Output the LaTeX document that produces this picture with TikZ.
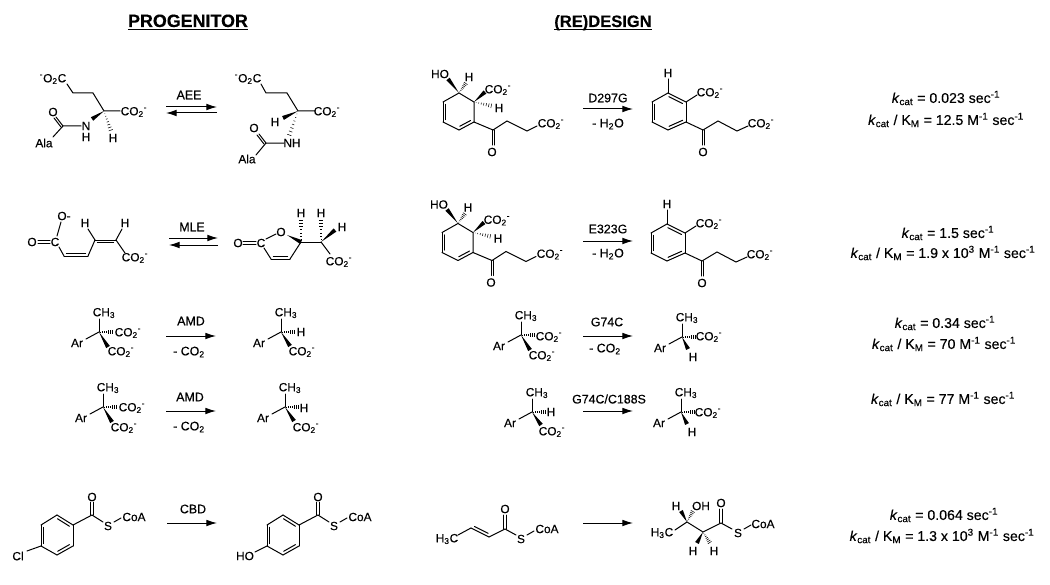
\documentclass[tikz,border=0pt]{standalone}
\usepackage{fontspec}
\setmainfont{Liberation Sans}[FakeBold=0.3]
\usepackage{tikz}
\usetikzlibrary{arrows.meta}
\usetikzlibrary{calc}

\newcommand{\cotwo}{CO\textsubscript{2}\textsuperscript{-}}
\newcommand{\kcat}{\textit{k}\textsubscript{cat}}
\newcommand{\kcatkm}{\kcat{} / K\textsubscript{M}}

\tikzset{
  bond/.style={line width=0.75pt, line cap=round},
  atom/.style={inner sep=0pt, font=\fontsize{8.9}{10}\selectfont},
  reagent/.style={inner sep=0pt, font=\fontsize{9.3}{11}\selectfont},
  rate/.style={inner sep=0pt, font=\fontsize{10.6}{12}\selectfont},
  heading/.style={inner sep=0pt, anchor=base},
  rxn/.style={line width=0.75pt, -{Latex[length=8pt,width=5pt]}},
}

% plain wedge, narrow at the first point
\newcommand{\wedgebond}[2]{\fill ($(#1)$) -- ($(#2)!1.6pt!90:(#1)$) -- ($(#2)!1.6pt!-90:(#1)$) -- cycle;}
% hashed wedge
\newcommand{\hashbond}[2]{
  \foreach \t in {0.12,0.26,...,1}{
    \pgfmathsetmacro{\hw}{\t*1.7}
    \coordinate (hh) at ($(#1)!\t!(#2)$);
    \draw[line width=0.4pt] ($(hh)!\hw pt!90:(#2)$) -- ($(hh)!\hw pt!-90:(#2)$);
  }
}
% double bond, second line on the right of the direction of travel
\newcommand{\innerbond}[2]{
  \draw[bond] (#1) -- (#2);
  \draw[bond, shorten >=1.8pt, shorten <=1.8pt] ($(#1)!2.2pt!-90:(#2)$) -- ($(#2)!2.2pt!90:(#1)$);
}
% reaction arrow: name, start, end
\newcommand{\rxnarrow}[3]{
  \coordinate (#1s) at (#2);
  \coordinate (#1e) at (#3);
  \draw[rxn] (#1s) -- (#1e);
}
% Ar-C(CH3) centre: name, centre, hash label at, hash text, wedge end, wedge label at, wedge text
\newcommand{\quatcarbon}[7]{
  \begin{scope}[shift={(#2)}]
  \draw[bond] (0,0) -- (0,-13);
  \draw[bond] (0,0) -- (-13,7);
  \node[atom] (#1me) at (5,-19) {CH\textsubscript{3}};
  \node[atom] (#1ar) at (-22,11) {Ar};
  \hashbond{0,0}{14,0}
  \node[atom] (#1ha) at (#3) {#4};
  \wedgebond{0,0}{#5}
  \node[atom] (#1we) at (#6) {#7};
  \end{scope}
}
% hydroxy diene with keto acid side chain
\newcommand{\dienol}[2]{
  \begin{scope}[shift={(#2)}]
  \coordinate (a) at (459,93); \coordinate (b) at (474,102); \coordinate (c) at (474,122);
  \coordinate (d) at (459,130); \coordinate (e) at (443,122); \coordinate (f) at (443,102);
  \draw[bond] (f) -- (a) -- (b) -- (c);
  \draw[bond] (d) -- (e);
  \innerbond{c}{d}
  \innerbond{e}{f}
  \wedgebond{a}{448,79}
  \hashbond{a}{466,83}
  \wedgebond{b}{485,92}
  \hashbond{b}{492,106}
  \node[atom] (#1ho) at (440,74) {HO};
  \node[atom] (#1h) at (469,77) {H};
  \node[atom] (#1co) at (498,90) {\cotwo};
  \node[atom] (#1hb) at (499,108) {H};
  \end{scope}
  \ketoacid{#1}{#2}{c}
}
% phenyl ketone used by the designed products
\newcommand{\arene}[2]{
  \begin{scope}[shift={(#2)}]
  \coordinate (a) at (668,93); \coordinate (b) at (686,102); \coordinate (c) at (686,122);
  \coordinate (d) at (668,130); \coordinate (e) at (652,122); \coordinate (f) at (652,102);
  \draw[bond] (b) -- (c);
  \draw[bond] (d) -- (e);
  \draw[bond] (f) -- (a);
  \innerbond{a}{b}
  \innerbond{c}{d}
  \innerbond{e}{f}
  \draw[bond] (a) -- (668,79);
  \draw[bond] (b) -- (697,95);
  \node[atom] (#1h) at (668,73) {H};
  \node[atom] (#1co) at (710,93) {\cotwo};
  \draw[bond] (c) -- (703,130) -- (718,121) -- (737,131) -- (748,126);
  \draw[bond] (702,130) -- (702,145);
  \draw[bond] (704.5,130) -- (704.5,145);
  \node[atom] (#1o) at (703,152) {O};
  \node[atom] (#1ca) at (761,124) {\cotwo};
  \end{scope}
}
\newcommand{\ketoacid}[3]{
  \begin{scope}[shift={(#2)}]
  \draw[bond] (#3) -- (493,130) -- (507,121) -- (527,131) -- (537,126);
  \draw[bond] (492,130) -- (492,145);
  \draw[bond] (494.5,130) -- (494.5,145);
  \node[atom] (#1o) at (492,152) {O};
  \node[atom] (#1ca) at (551,124) {\cotwo};
  \end{scope}
}
% para substituted benzoyl thioester
\newcommand{\benzoyl}[2]{
  \begin{scope}[shift={(#2)}]
  \coordinate (a) at (57,515); \coordinate (b) at (73,525); \coordinate (c) at (73,546);
  \coordinate (d) at (57,555); \coordinate (e) at (41,546); \coordinate (f) at (41,525);
  \draw[bond] (b) -- (c);
  \draw[bond] (d) -- (e);
  \draw[bond] (f) -- (a);
  \innerbond{a}{b}
  \innerbond{c}{d}
  \innerbond{e}{f}
  \draw[bond] (b) -- (92,515) -- (103,522);
  \draw[bond] (90.8,515) -- (90.8,502);
  \draw[bond] (93.2,515) -- (93.2,502);
  \draw[bond] (114,522) -- (121,518);
  \node[atom] (#1o) at (92,497) {O};
  \node[atom] (#1s) at (108,526) {S};
  \node[atom] (#1c) at (134,517) {CoA};
  \end{scope}
}

\begin{document}
\begin{tikzpicture}[x=0.75pt, y=-0.75pt]
\useasboundingbox (0,0) rectangle (1050,585);

% headings
\node[heading, font=\fontsize{13.4}{15}\selectfont\bfseries] (progenitor) at (188,27) {PROGENITOR};
\node[heading, font=\fontsize{12.4}{15}\selectfont\bfseries] (redesign) at (603,27) {(RE)DESIGN};
\draw[line width=1pt] ($(progenitor.base west)+(0,2.5)$) -- ($(progenitor.base east)+(0,2.5)$);
\draw[line width=1pt] ($(redesign.base west)+(0,2.5)$) -- ($(redesign.base east)+(0,2.5)$);

% AEE substrate
\node[atom] (aeecoa) at (53,79) {\textsuperscript{-}O\textsubscript{2}C};
\draw[bond] (67,84) -- (73,93) -- (93,93) -- (104,111) -- (120,111);
\node[atom] (aeecob) at (134,112) {\cotwo};
\wedgebond{104,111}{92,119}
\hashbond{104,111}{111,131}
\node[atom] (aeeh) at (113,138) {H};
\node[atom] (aeen) at (86,126) {N};
\node[atom] (aeenh) at (86,137) {H};
\draw[bond] (81,126) -- (63,126) -- (53,137);
\draw[bond] (63,126) -- (56,117);
\draw[bond] (61,127) -- (54,118);
\node[atom] (aeeo) at (53,112) {O};
\node[atom] (aeeala) at (44,143) {Ala};

% AEE product
\node[atom] (aeepcoa) at (248,79) {\textsuperscript{-}O\textsubscript{2}C};
\draw[bond] (261,84) -- (266,93) -- (287,93) -- (298,111) -- (315,111);
\node[atom] (aeepcob) at (327,112) {\cotwo};
\wedgebond{298,111}{283,118}
\node[atom] (aeeph) at (275,122) {H};
\hashbond{298,111}{289,136}
\node[atom] (aeepn) at (292,143) {NH};
\draw[bond] (284,143) -- (266,143) -- (256,155);
\draw[bond] (266,143) -- (259,134);
\draw[bond] (264,144) -- (257,135);
\node[atom] (aeepo) at (254,128) {O};
\node[atom] (aeepala) at (247,159) {Ala};

% AEE arrows
\node[reagent] (aee) at (189,95) {AEE};
\rxnarrow{aeef}{166,107}{217,107}
\rxnarrow{aeer}{217,113}{166,113}

% MLE substrate
\node[atom] (mleoa) at (64,216) {O-};
\node[atom] (mleob) at (32,242) {O};
\node[atom] (mlec) at (55,242) {C};
\draw[bond] (38,240.5) -- (50,240.5);
\draw[bond] (38,243.5) -- (50,243.5);
\draw[bond] (57,236) -- (61,222);
\draw[bond] (59,247) -- (64,256);
\draw[bond] (88,256) -- (95,240);
\innerbond{88,256}{64,256}
\innerbond{95,240}{116,240}
\draw[bond] (95,240) -- (88,229);
\draw[bond] (116,240) -- (122,229);
\draw[bond] (116,240) -- (125,253);
\node[atom] (mleha) at (85,223) {H};
\node[atom] (mlehb) at (125,223) {H};
\node[atom] (mleco) at (135,258) {\cotwo};

% MLE product
\node[atom] (mlepoa) at (238,243) {O};
\node[atom] (mlepc) at (261,243) {C};
\node[atom] (mlepob) at (281,232) {O};
\draw[bond] (243,241) -- (256,241);
\draw[bond] (243,244.5) -- (256,244.5);
\draw[bond] (266,239) -- (276,234);
\wedgebond{287,235}{301,242}
\hashbond{301,242}{301,219}
\node[atom] (mlepha) at (301,213) {H};
\draw[bond] (301,242) -- (321,242);
\hashbond{321,242}{321,219}
\node[atom] (mlephb) at (321,213) {H};
\wedgebond{321,242}{335,230}
\node[atom] (mlephc) at (342,227) {H};
\draw[bond] (321,242) -- (330,254);
\node[atom] (mlepco) at (339,262) {\cotwo};
\draw[bond] (301,242) -- (290,259);
\innerbond{290,259}{271,259}
\draw[bond] (271,259) -- (264,248);

% MLE arrows
\node[reagent] (mle) at (192,227) {MLE};
\rxnarrow{mlef}{169,238}{218,238}
\rxnarrow{mler}{218,245}{169,245}

% AMD, upper row
\quatcarbon{amda}{99,332}{29,1}{\cotwo}{9,15}{22,20}{\cotwo}
\node[reagent] (amdatop) at (191,321) {AMD};
\node[reagent] (amdabot) at (189,352) {- CO\textsubscript{2}};
\rxnarrow{amdaarr}{166,336}{216,336}
\quatcarbon{amdb}{281,332}{20,0}{H}{9,14}{21,20}{\cotwo}

% AMD, lower row
\quatcarbon{amdc}{103,407}{29,1}{\cotwo}{9,15}{21,21}{\cotwo}
\node[reagent] (amdctop) at (190,397) {AMD};
\node[reagent] (amdcbot) at (189,427) {- CO\textsubscript{2}};
\rxnarrow{amdcarr}{166,411}{216,411}
\quatcarbon{amdd}{285,407}{19,1}{H}{9,14}{21,21}{\cotwo}

% CBD
\benzoyl{cbda}{0,0}
\node[atom] (cbdcl) at (18,556) {Cl};
\draw[bond] (41,546) -- (27,551);
\node[reagent] (cbd) at (193,509) {CBD};
\rxnarrow{cbdarr}{167,523}{217,523}
\benzoyl{cbdb}{226,0}
\node[atom] (cbdho) at (245,556) {HO};
\draw[bond] (267,546) -- (255,552);

% D297G
\dienol{dpa}{0,0}
\node[reagent] (dpatop) at (608,98) {D297G};
\node[reagent] (dpabot) at (608,124) {- H\textsubscript{2}O};
\rxnarrow{dparr}{583,109}{633,109}
\arene{dpb}{0,0}

% E323G
\dienol{epa}{-1,130.5}
\node[reagent] (epatop) at (608,229) {E323G};
\node[reagent] (epabot) at (608,254) {- H\textsubscript{2}O};
\rxnarrow{eparr}{583,241}{633,241}
\arene{epb}{-1,131}

% G74C
\quatcarbon{gca}{521,335}{28,2}{\cotwo}{9,15}{21,21}{\cotwo}
\node[reagent] (gcatop) at (607,322) {G74C};
\node[reagent] (gcabot) at (605,349) {- CO\textsubscript{2}};
\rxnarrow{gcarr}{583,336}{633,336}
\quatcarbon{gcb}{682,337}{27,0}{\cotwo}{6,12}{11,20}{H}

% G74C/C188S
\quatcarbon{gda}{532,412}{19,0}{H}{9,13}{20,20}{\cotwo}
\node[reagent] (gdatop) at (609,399) {G74C/C188S};
\rxnarrow{gdarr}{583,411}{633,411}
\quatcarbon{gdb}{681,412}{27,1}{\cotwo}{6,12}{11,20}{H}

% crotonyl thioester
\node[atom] (croch) at (447,539) {H\textsubscript{3}C};
\draw[bond] (458,535) -- (471,528);
\innerbond{489,537}{471,528}
\draw[bond] (489,537) -- (505,529) -- (516,535);
\draw[bond] (503.8,529) -- (503.8,515);
\draw[bond] (506.2,529) -- (506.2,515);
\node[atom] (croo) at (505,509) {O};
\node[atom] (cros) at (521,539) {S};
\draw[bond] (527,535) -- (534,531);
\node[atom] (crocoa) at (547,529) {CoA};
\rxnarrow{croarr}{583,523}{633,523}

% hydroxybutyryl thioester
\node[atom] (hydch) at (662,533) {H\textsubscript{3}C};
\draw[bond] (675,530) -- (687,522) -- (703,532) -- (721,523) -- (732,529);
\wedgebond{687,522}{681,511}
\node[atom] (hydha) at (676,506) {H};
\hashbond{687,522}{693,511}
\node[atom] (hydoh) at (701,506) {OH};
\wedgebond{703,532}{697,543}
\node[atom] (hydhb) at (693,551) {H};
\hashbond{703,532}{710,543}
\node[atom] (hydhc) at (714,551) {H};
\draw[bond] (719.8,523) -- (719.8,509);
\draw[bond] (722.2,523) -- (722.2,509);
\node[atom] (hydo) at (721,503) {O};
\node[atom] (hyds) at (738,533) {S};
\draw[bond] (744,529) -- (751,525);
\node[atom] (hydcoa) at (763,524) {CoA};

% rate constants
\node[rate] (ratea) at (946,98) {\kcat{} = 0.023 sec\textsuperscript{-1}};
\node[rate] (rateb) at (946,120) {\kcatkm{} = 12.5 M\textsuperscript{-1} sec\textsuperscript{-1}};
\node[rate] (ratec) at (948,233) {\kcat{} = 1.5 sec\textsuperscript{-1}};
\node[rate] (rated) at (943,253) {\kcatkm{} = 1.9 x 10\textsuperscript{3} M\textsuperscript{-1} sec\textsuperscript{-1}};
\node[rate] (ratee) at (945,323) {\kcat{} = 0.34 sec\textsuperscript{-1}};
\node[rate] (ratef) at (944,344) {\kcatkm{} = 70 M\textsuperscript{-1} sec\textsuperscript{-1}};
\node[rate] (rateg) at (943,399) {\kcatkm{} = 77 M\textsuperscript{-1} sec\textsuperscript{-1}};
\node[rate] (rateh) at (944,515) {\kcat{} = 0.064 sec\textsuperscript{-1}};
\node[rate] (ratei) at (942,536) {\kcatkm{} = 1.3 x 10\textsuperscript{3} M\textsuperscript{-1} sec\textsuperscript{-1}};
\end{tikzpicture}
\end{document}
